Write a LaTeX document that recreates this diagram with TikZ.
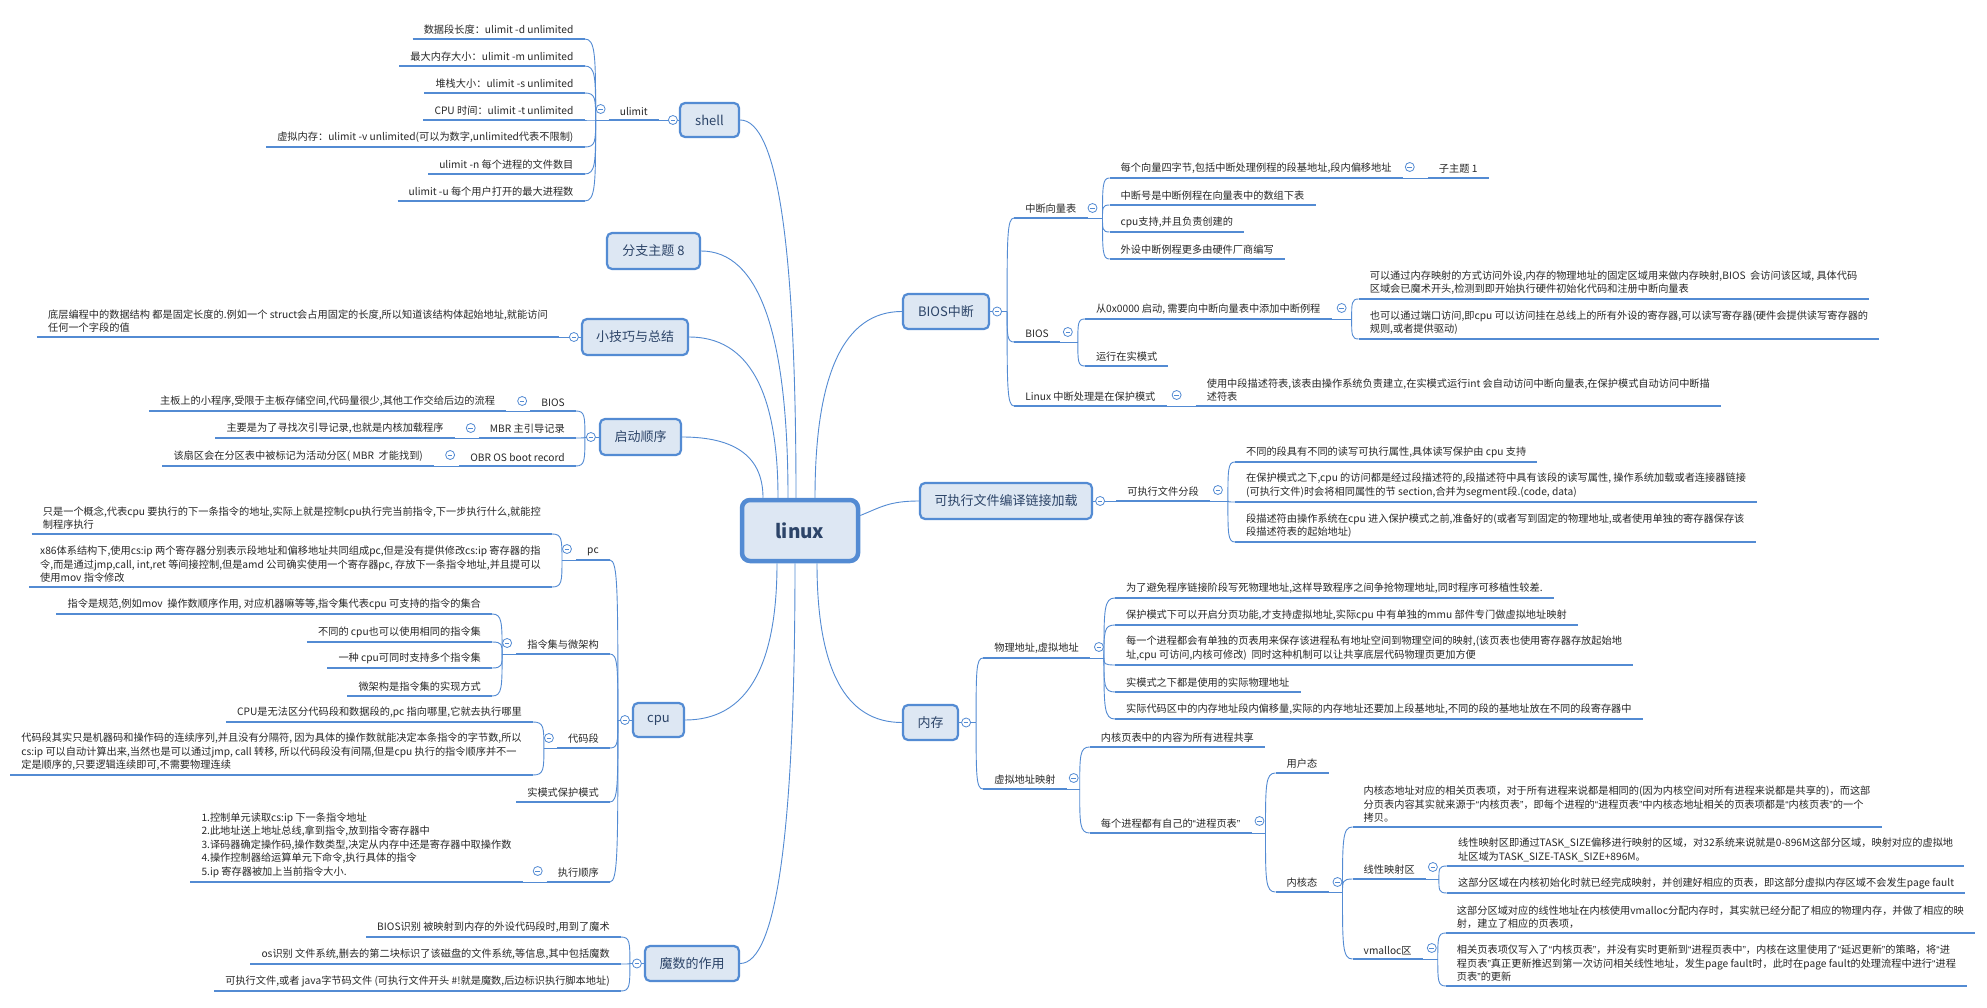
\documentclass[tikz,border=0pt]{standalone}
\usepackage{fontspec}
\setmainfont{Noto Sans CJK SC}
\newfontfamily\qfont{Liberation Sans}
\usetikzlibrary{calc}
\pgfdeclarelayer{back}
\pgfdeclarelayer{bg}
\pgfsetlayers{back,bg,main}
\definecolor{lb}{RGB}{83,139,211}
\definecolor{boxf}{RGB}{221,231,243}
\definecolor{mtc}{RGB}{44,68,104}
\definecolor{txtc}{RGB}{40,40,40}
\newcommand\qL{{\qfont “}}
\newcommand\qR{{\qfont ”}}
\newcommand\stf{\fontsize{10.2}{13.6}\selectfont}
\newcommand\mmqc[2]{\draw[conn] (#1) .. controls ($(#1)!0.6667!(#1|-#2)$) and ($(#2)!0.6667!(#1|-#2)$) .. (#2);}
\newcommand\mmbrk[2]{\draw[conn] (#1) .. controls ($(#1)!0.8!(#1|-#2)$) and (#1|-#2) .. (#2);}
\tikzset{
 mt/.style={draw=lb, line width=2.2pt, fill=boxf, rounded corners=5pt, text=mtc, font=\fontsize{13}{15}\selectfont, inner sep=0pt},
 subL/.style={anchor=south east, font=\stf, text=txtc, inner xsep=11pt, inner ysep=4pt, align=left},
 subR/.style={anchor=south west, font=\stf, text=txtc, inner xsep=11pt, inner ysep=4pt, align=left},
 uline/.style={draw=lb, line width=2.8pt},
 conn/.style={draw=lb, line width=0.9pt},
 tog/.style={circle, draw=lb, fill=white, line width=0.8pt, minimum size=9pt, inner sep=0pt,
   path picture={\draw[lb, line width=0.8pt] ([xshift=-2.3pt]path picture bounding box.center) -- ([xshift=2.3pt]path picture bounding box.center);}},
}
\begin{document}
\begin{tikzpicture}[x=1pt,y=-1pt]
\useasboundingbox (0,0) rectangle (1987,1008);
\begin{pgfonlayer}{back}
\fill[white] (0,0) rectangle (1987,1008);
\end{pgfonlayer}

% ---------- centre ----------
\node[mt, minimum width=116pt, minimum height=61pt, line width=4.5pt, rounded corners=8pt, font=\fontsize{19}{22}\selectfont\bfseries] (linux) at (800,530.5) {linux};

% ---------- shell ----------
\node[mt, minimum width=59pt, minimum height=34pt] (shell) at (709.5,120) {shell};
\node[subL] (ulimit) at (659,120) {ulimit};
\coordinate (ulJ) at ([xshift=-13pt]ulimit.south west);
\node[subL,xshift=-11pt] (u1) at (ulJ |- 0,39) {数据段长度：ulimit -d unlimited};
\node[subL,xshift=-11pt] (u2) at (ulJ |- 0,66) {最大内存大小：ulimit -m unlimited};
\node[subL,xshift=-11pt] (u3) at (ulJ |- 0,93) {堆栈大小：ulimit -s unlimited};
\node[subL,xshift=-11pt] (u4) at (ulJ |- 0,120) {CPU 时间：ulimit -t unlimited};
\node[subL,xshift=-11pt] (u5) at (ulJ |- 0,147) {虚拟内存：ulimit -v unlimited(可以为数字,unlimited代表不限制)};
\node[subL,xshift=-11pt] (u6) at (ulJ |- 0,174) {ulimit -n 每个进程的文件数目};
\node[subL,xshift=-11pt] (u7) at (ulJ |- 0,201) {ulimit -u 每个用户打开的最大进程数};

% ---------- branch 8 ----------
\node[mt, minimum width=93pt, minimum height=36pt] (b8) at (653.5,251) {分支主题 8};

% ---------- tips ----------
\node[mt, minimum width=106pt, minimum height=36pt] (tips) at (635,337) {小技巧与总结};
\node[subL] (tips1) at ([xshift=-22pt]tips.west) {底层编程中的数据结构 都是固定长度的.例如一个 struct会占用固定的长度,所以知道该结构体起始地址,就能访问\\任何一个字段的值};

% ---------- boot ----------
\node[mt, minimum width=81pt, minimum height=36pt] (boot) at (640.5,437) {启动顺序};
\coordinate (bootJ) at ([xshift=-14pt]boot.west);
\node[subL,xshift=-9pt] (bios0) at (bootJ |- 0,411) {BIOS};
\node[subL,xshift=-9pt] (mbr) at (bootJ |- 0,438) {MBR 主引导记录};
\node[subL,xshift=-9pt] (obr) at (bootJ |- 0,466) {OBR OS boot record};
\node[subL,xshift=-24pt] (bios0a) at (bios0.south west) {主板上的小程序,受限于主板存储空间,代码量很少,其他工作交给后边的流程};
\node[subL,xshift=-24pt] (mbra) at (mbr.south west) {主要是为了寻找次引导记录,也就是内核加载程序};
\node[subL,xshift=-25pt] (obra) at (obr.south west) {该扇区会在分区表中被标记为活动分区( MBR\ \ 才能找到)};

% ---------- cpu ----------
\node[mt, minimum width=51pt, minimum height=34pt] (cpu) at (658.5,720) {cpu};
\coordinate (cpuJ) at ([xshift=-14pt]cpu.west);
\node[subL,xshift=-8pt] (pc) at (cpuJ |- 0,560) {pc};
\node[subL,xshift=-8pt] (isa) at (cpuJ |- 0,654) {指令集与微架构};
\node[subL,xshift=-8pt] (cseg) at (cpuJ |- 0,748) {代码段};
\node[subL,xshift=-8pt] (rmode) at (cpuJ |- 0,802) {实模式保护模式};
\node[subL,xshift=-8pt] (exec) at (cpuJ |- 0,882) {执行顺序};
\coordinate (pcJ) at ([xshift=-14pt]pc.south west);
\node[subL,xshift=-10pt] (pc1) at (pcJ |- 0,534) {只是一个概念,代表cpu 要执行的下一条指令的地址,实际上就是控制cpu执行完当前指令,下一步执行什么,就能控\\制程序执行};
\node[subL,xshift=-10pt] (pc2) at (pcJ |- 0,587) {x86体系结构下,使用cs:ip 两个寄存器分别表示段地址和偏移地址共同组成pc,但是没有提供修改cs:ip 寄存器的指\\令,而是通过jmp,call, int,ret 等间接控制,但是amd 公司确实使用一个寄存器pc, 存放下一条指令地址,并且提可以\\使用mov 指令修改};
\coordinate (isaJ) at ([xshift=-14pt]isa.south west);
\node[subL,xshift=-10pt] (isa1) at (isaJ |- 0,614) {指令是规范,例如mov\ \ 操作数顺序作用, 对应机器嘛等等,指令集代表cpu 可支持的指令的集合};
\node[subL,xshift=-10pt] (isa2) at (isaJ |- 0,642) {不同的 cpu也可以使用相同的指令集};
\node[subL,xshift=-10pt] (isa3) at (isaJ |- 0,668) {一种 cpu可同时支持多个指令集};
\node[subL,xshift=-10pt] (isa4) at (isaJ |- 0,696) {微架构是指令集的实现方式};
\coordinate (csJ) at ([xshift=-13pt]cseg.south west);
\node[subL,xshift=-11pt] (cs1) at (csJ |- 0,722) {CPU是无法区分代码段和数据段的,pc 指向哪里,它就去执行哪里};
\node[subL,xshift=-11pt] (cs2) at (csJ |- 0,775) {代码段其实只是机器码和操作码的连续序列,并且没有分隔符, 因为具体的操作数就能决定本条指令的字节数,所以\\cs:ip 可以自动计算出来,当然也是可以通过jmp, call 转移, 所以代码段没有间隔,但是cpu 执行的指令顺序并不一\\定是顺序的,只要逻辑连续即可,不需要物理连续};
\node[subL,xshift=-24pt] (exec1) at (exec.south west) {1.控制单元读取cs:ip 下一条指令地址\\2.此地址送上地址总线,拿到指令,放到指令寄存器中\\3.译码器确定操作码,操作数类型,决定从内存中还是寄存器中取操作数\\4.操作控制器给运算单元下命令,执行具体的指令\\5.ip 寄存器被加上当前指令大小.};

% ---------- magic ----------
\node[mt, minimum width=94pt, minimum height=35pt] (magic) at (692,963.5) {魔数的作用};
\coordinate (magJ) at ([xshift=-14pt]magic.west);
\node[subL,xshift=-9pt] (mg1) at (magJ |- 0,937) {BIOS识别 被映射到内存的外设代码段时,用到了魔术};
\node[subL,xshift=-9pt] (mg2) at (magJ |- 0,964) {os识别 文件系统,删去的第二块标识了该磁盘的文件系统,等信息,其中包括魔数};
\node[subL,xshift=-9pt] (mg3) at (magJ |- 0,991) {可执行文件,或者 java字节码文件 (可执行文件开头 \#!就是魔数,后边标识执行脚本地址)};

% ---------- BIOS interrupt ----------
\node[mt, minimum width=86pt, minimum height=35pt] (bint) at (946,311.5) {BIOS中断};
\coordinate (bintJ) at ([xshift=17pt]bint.east);
\node[subR,xshift=7pt] (ivt) at (bintJ |- 0,218) {中断向量表};
\node[subR,xshift=7pt] (biosl) at (bintJ |- 0,342) {BIOS};
\node[subR,xshift=7pt] (linint) at (bintJ |- 0,406) {Linux 中断处理是在保护模式};
\coordinate (ivtJ) at ([xshift=15pt]ivt.south east);
\node[subR,xshift=7pt] (ivt1) at (ivtJ |- 0,178) {每个向量四字节,包括中断处理例程的段基地址,段内偏移地址};
\node[subR,xshift=7pt] (ivt2) at (ivtJ |- 0,205) {中断号是中断例程在向量表中的数组下表};
\node[subR,xshift=7pt] (ivt3) at (ivtJ |- 0,232) {cpu支持,并且负责创建的};
\node[subR,xshift=7pt] (ivt4) at (ivtJ |- 0,259) {外设中断例程更多由硬件厂商编写};
\node[subR,xshift=25pt] (ivt1a) at (ivt1.south east) {子主题 1};
\coordinate (blJ) at ([xshift=18pt]biosl.south east);
\node[subR,xshift=7pt] (bl1) at (blJ |- 0,319) {从0x0000 启动, 需要向中断向量表中添加中断例程};
\node[subR,xshift=7pt] (bl2) at (blJ |- 0,366) {运行在实模式};
\coordinate (bl1J) at ([xshift=20pt]bl1.south east);
\node[subR,xshift=7pt] (bl1a) at (bl1J |- 0,299) {可以通过内存映射的方式访问外设,内存的物理地址的固定区域用来做内存映射,BIOS\ \ 会访问该区域, 具体代码\\区域会已魔术开头,检测到即开始执行硬件初始化代码和注册中断向量表};
\node[subR,xshift=7pt] (bl1b) at (bl1J |- 0,339) {也可以通过端口访问,即cpu 可以访问挂在总线上的所有外设的寄存器,可以读写寄存器(硬件会提供读写寄存器的\\规则,或者提供驱动)};
\node[subR,xshift=29pt] (linint1) at (linint.south east) {使用中段描述符表,该表由操作系统负责建立,在实模式运行int 会自动访问中断向量表,在保护模式自动访问中断描\\述符表};

% ---------- executable ----------
\node[mt, minimum width=172pt, minimum height=36pt] (exe) at (1006,501) {可执行文件编译链接加载};
\node[subR,xshift=23pt] (exeseg) at (exe.east) {可执行文件分段};
\coordinate (esJ) at ([xshift=18pt]exeseg.south east);
\node[subR,xshift=7pt] (es1) at (esJ |- 0,462) {不同的段具有不同的读写可执行属性,具体读写保护由 cpu 支持};
\node[subR,xshift=7pt] (es2) at (esJ |- 0,502) {在保护模式之下,cpu 的访问都是经过段描述符的,段描述符中具有该段的读写属性, 操作系统加载或者连接器链接\\(可执行文件)时会将相同属性的节 section,合并为segment段.(code, data)};
\node[subR,xshift=7pt] (es3) at (esJ |- 0,542) {段描述符由操作系统在cpu 进入保护模式之前,准备好的(或者写到固定的物理地址,或者使用单独的寄存器保存该\\段描述符表的起始地址)};

% ---------- memory ----------
\node[mt, minimum width=55pt, minimum height=35pt] (mem) at (930.5,722.5) {内存};
\coordinate (memJ) at ([xshift=17pt]mem.east);
\node[subR,xshift=7pt] (phys) at (memJ |- 0,658) {物理地址,虚拟地址};
\node[subR,xshift=7pt] (vmap) at (memJ |- 0,789) {虚拟地址映射};
\coordinate (phJ) at ([xshift=14pt]phys.south east);
\node[subR,xshift=11pt] (ph1) at (phJ |- 0,598) {为了避免程序链接阶段写死物理地址,这样导致程序之间争抢物理地址,同时程序可移植性较差.};
\node[subR,xshift=11pt] (ph2) at (phJ |- 0,625) {保护模式下可以开启分页功能,才支持虚拟地址,实际cpu 中有单独的mmu 部件专门做虚拟地址映射};
\node[subR,xshift=11pt] (ph3) at (phJ |- 0,665) {每一个进程都会有单独的页表用来保存该进程私有地址空间到物理空间的映射,(该页表也使用寄存器存放起始地\\址,cpu 可访问,内核可修改)\ \ 同时这种机制可以让共享底层代码物理页更加方便};
\node[subR,xshift=11pt] (ph4) at (phJ |- 0,692) {实模式之下都是使用的实际物理地址};
\node[subR,xshift=11pt] (ph5) at (phJ |- 0,719) {实际代码区中的内存地址段内偏移量,实际的内存地址还要加上段基地址,不同的段的基地址放在不同的段寄存器中};
\coordinate (vmJ) at ([xshift=13pt]vmap.south east);
\node[subR,xshift=10pt] (vm1) at (vmJ |- 0,747) {内核页表中的内容为所有进程共享};
\node[subR,xshift=10pt] (vm2) at (vmJ |- 0,833) {每个进程都有自己的\qL{}进程页表\qR{}};
\coordinate (vm2J) at ([xshift=14pt]vm2.south east);
\node[subR,xshift=10pt] (user) at (vm2J |- 0,773) {用户态};
\node[subR,xshift=10pt] (kern) at (vm2J |- 0,892) {内核态};
\coordinate (kJ) at ([xshift=14pt]kern.south east);
\node[subR,xshift=10pt] (k1) at (kJ |- 0,827) {内核态地址对应的相关页表项，对于所有进程来说都是相同的(因为内核空间对所有进程来说都是共享的)，而这部\\分页表内容其实就来源于\qL{}内核页表\qR{}，即每个进程的\qL{}进程页表\qR{}中内核态地址相关的页表项都是\qL{}内核页表\qR{}的一个\\拷贝。};
\node[subR,xshift=10pt] (lin) at (kJ |- 0,879) {线性映射区};
\node[subR,xshift=10pt] (vmal) at (kJ |- 0,959) {vmalloc区};
\coordinate (linJ) at ([xshift=13pt]lin.south east);
\node[subR,xshift=8pt] (lin1) at (linJ |- 0,866) {线性映射区即通过TASK\_SIZE偏移进行映射的区域，对32系统来说就是0-896M这部分区域，映射对应的虚拟地\\址区域为TASK\_SIZE-TASK\_SIZE+896M。};
\node[subR,xshift=8pt] (lin2) at (linJ |- 0,893) {这部分区域在内核初始化时就已经完成映射，并创建好相应的页表，即这部分虚拟内存区域不会发生page fault};
\coordinate (vmalJ) at ([xshift=15pt]vmal.south east);
\node[subR,xshift=8pt] (vma1) at (vmalJ |- 0,933) {这部分区域对应的线性地址在内核使用vmalloc分配内存时，其实就已经分配了相应的物理内存，并做了相应的映\\射，建立了相应的页表项，};
\node[subR,xshift=8pt] (vma2) at (vmalJ |- 0,986) {相关页表项仅写入了\qL{}内核页表\qR{}，并没有实时更新到\qL{}进程页表中\qR{}，内核在这里使用了\qL{}延迟更新\qR{}的策略，将\qL{}进\\程页表\qR{}真正更新推迟到第一次访问相关线性地址，发生page fault时，此时在page fault的处理流程中进行\qL{}进程\\页表\qR{}的更新};

% ---------- connectors ----------
\begin{pgfonlayer}{bg}
\coordinate (Lboot) at ([xshift=-37pt]linux.north);
\coordinate (Ltips) at ([xshift=-22pt]linux.north);
\coordinate (Lb8) at ([xshift=-12pt]linux.north);
\coordinate (Lshell) at ([xshift=-4pt]linux.north);
\coordinate (Lbint) at ([xshift=15pt]linux.north);
\coordinate (Lcpu) at ([xshift=-23pt]linux.south);
\coordinate (Lmag) at ([xshift=-5pt]linux.south);
\coordinate (Lmem) at ([xshift=17pt]linux.south);
\coordinate (Lexe) at ([yshift=15pt]linux.east);
\mmqc{Lshell}{shell.east}
\mmqc{Lb8}{b8.east}
\mmqc{Ltips}{tips.east}
\mmqc{Lboot}{boot.east}
\mmqc{Lcpu}{cpu.east}
\mmqc{Lmag}{magic.east}
\mmqc{Lbint}{bint.west}
\mmqc{Lmem}{mem.west}
\draw[conn] (Lexe) .. controls ([xshift=20pt,yshift=8pt]Lexe) and ([xshift=-30pt]exe.west) .. (exe.west);
% left
\draw[conn] (shell.west) -- (ulimit.south east);
\draw[conn] (ulimit.south west) -- (ulJ);
\foreach \n in {u1,u2,u3,u4,u5,u6,u7} {\mmbrk{ulJ}{\n.south east}}
\draw[conn] (tips.west) -- (tips1.south east);
\draw[conn] (boot.west) -- (bootJ);
\foreach \n in {bios0,mbr,obr} {\mmbrk{bootJ}{\n.south east}}
\draw[conn] (bios0.south west) -- (bios0a.south east);
\draw[conn] (mbr.south west) -- (mbra.south east);
\draw[conn] (obr.south west) -- (obra.south east);
\draw[conn] (cpu.west) -- (cpuJ);
\foreach \n in {pc,isa,cseg,rmode,exec} {\mmbrk{cpuJ}{\n.south east}}
\draw[conn] (pc.south west) -- (pcJ);
\foreach \n in {pc1,pc2} {\mmbrk{pcJ}{\n.south east}}
\draw[conn] (isa.south west) -- (isaJ);
\foreach \n in {isa1,isa2,isa3,isa4} {\mmbrk{isaJ}{\n.south east}}
\draw[conn] (cseg.south west) -- (csJ);
\foreach \n in {cs1,cs2} {\mmbrk{csJ}{\n.south east}}
\draw[conn] (exec.south west) -- (exec1.south east);
\draw[conn] (magic.west) -- (magJ);
\foreach \n in {mg1,mg2,mg3} {\mmbrk{magJ}{\n.south east}}
% right
\draw[conn] (bint.east) -- (bintJ);
\foreach \n in {ivt,biosl,linint} {\mmbrk{bintJ}{\n.south west}}
\draw[conn] (ivt.south east) -- (ivtJ);
\foreach \n in {ivt1,ivt2,ivt3,ivt4} {\mmbrk{ivtJ}{\n.south west}}
\draw[conn] (ivt1.south east) -- (ivt1a.south west);
\draw[conn] (biosl.south east) -- (blJ);
\foreach \n in {bl1,bl2} {\mmbrk{blJ}{\n.south west}}
\draw[conn] (bl1.south east) -- (bl1J);
\foreach \n in {bl1a,bl1b} {\mmbrk{bl1J}{\n.south west}}
\draw[conn] (linint.south east) -- (linint1.south west);
\draw[conn] (exe.east) -- (exeseg.south west);
\draw[conn] (exeseg.south east) -- (esJ);
\foreach \n in {es1,es2,es3} {\mmbrk{esJ}{\n.south west}}
\draw[conn] (mem.east) -- (memJ);
\foreach \n in {phys,vmap} {\mmbrk{memJ}{\n.south west}}
\draw[conn] (phys.south east) -- (phJ);
\foreach \n in {ph1,ph2,ph3,ph4,ph5} {\mmbrk{phJ}{\n.south west}}
\draw[conn] (vmap.south east) -- (vmJ);
\foreach \n in {vm1,vm2} {\mmbrk{vmJ}{\n.south west}}
\draw[conn] (vm2.south east) -- (vm2J);
\foreach \n in {user,kern} {\mmbrk{vm2J}{\n.south west}}
\draw[conn] (kern.south east) -- (kJ);
\foreach \n in {k1,lin,vmal} {\mmbrk{kJ}{\n.south west}}
\draw[conn] (lin.south east) -- (linJ);
\foreach \n in {lin1,lin2} {\mmbrk{linJ}{\n.south west}}
\draw[conn] (vmal.south east) -- (vmalJ);
\foreach \n in {vma1,vma2} {\mmbrk{vmalJ}{\n.south west}}
\end{pgfonlayer}

% ---------- underlines ----------
\foreach \n in {ulimit,u1,u2,u3,u4,u5,u6,u7,tips1,bios0,bios0a,mbr,mbra,obr,obra,pc,pc1,pc2,isa,isa1,isa2,isa3,isa4,cseg,cs1,cs2,rmode,exec,exec1,mg1,mg2,mg3,ivt,ivt1,ivt1a,ivt2,ivt3,ivt4,biosl,bl1,bl1a,bl1b,bl2,linint,linint1,exeseg,es1,es2,es3,phys,ph1,ph2,ph3,ph4,ph5,vmap,vm1,vm2,user,kern,k1,lin,lin1,lin2,vmal,vma1,vma2}
  {\draw[uline] (\n.south west) -- (\n.south east);}

% ---------- collapse markers ----------
\node[tog] (tS) at ([xshift=-6pt]shell.west) {};
\node[tog] (tUl) at ([xshift=-8pt,yshift=11pt]ulimit.south west) {};
\node[tog] (tTips) at ([xshift=-7pt]tips.west) {};
\node[tog] (tBoot) at ([xshift=-8pt]boot.west) {};
\node[tog] (tBios0) at ([xshift=-8pt,yshift=10pt]bios0.south west) {};
\node[tog] (tMbr) at ([xshift=-8pt,yshift=10pt]mbr.south west) {};
\node[tog] (tObr) at ([xshift=-9pt,yshift=11pt]obr.south west) {};
\node[tog] (tCpu) at ([xshift=-7pt]cpu.west) {};
\node[tog] (tPc) at ([xshift=-9pt,yshift=11pt]pc.south west) {};
\node[tog] (tIsa) at ([xshift=-9pt,yshift=11pt]isa.south west) {};
\node[tog] (tCs) at ([xshift=-8pt,yshift=10pt]cseg.south west) {};
\node[tog] (tExec) at ([xshift=-9pt,yshift=11pt]exec.south west) {};
\node[tog] (tMag) at ([xshift=-7pt]magic.west) {};
\node[tog] (tBint) at ([xshift=7pt]bint.east) {};
\node[tog] (tIvt) at ([xshift=5pt,yshift=10pt]ivt.south east) {};
\node[tog] (tIvt1) at ([xshift=7pt,yshift=11pt]ivt1.south east) {};
\node[tog] (tBl) at ([xshift=8pt,yshift=10pt]biosl.south east) {};
\node[tog] (tBl1) at ([xshift=10pt,yshift=11pt]bl1.south east) {};
\node[tog] (tLinint) at ([xshift=10pt,yshift=11pt]linint.south east) {};
\node[tog] (tExe) at ([xshift=7pt]exe.east) {};
\node[tog] (tEs) at ([xshift=8pt,yshift=11pt]exeseg.south east) {};
\node[tog] (tMem) at ([xshift=7pt]mem.east) {};
\node[tog] (tPh) at ([xshift=9pt,yshift=11pt]phys.south east) {};
\node[tog] (tVm) at ([xshift=7pt,yshift=11pt]vmap.south east) {};
\node[tog] (tVm2) at ([xshift=8pt,yshift=12pt]vm2.south east) {};
\node[tog] (tKern) at ([xshift=9pt,yshift=10pt]kern.south east) {};
\node[tog] (tLin) at ([xshift=7pt,yshift=12pt]lin.south east) {};
\node[tog] (tVmal) at ([xshift=9pt,yshift=11pt]vmal.south east) {};
\end{tikzpicture}
\end{document}
